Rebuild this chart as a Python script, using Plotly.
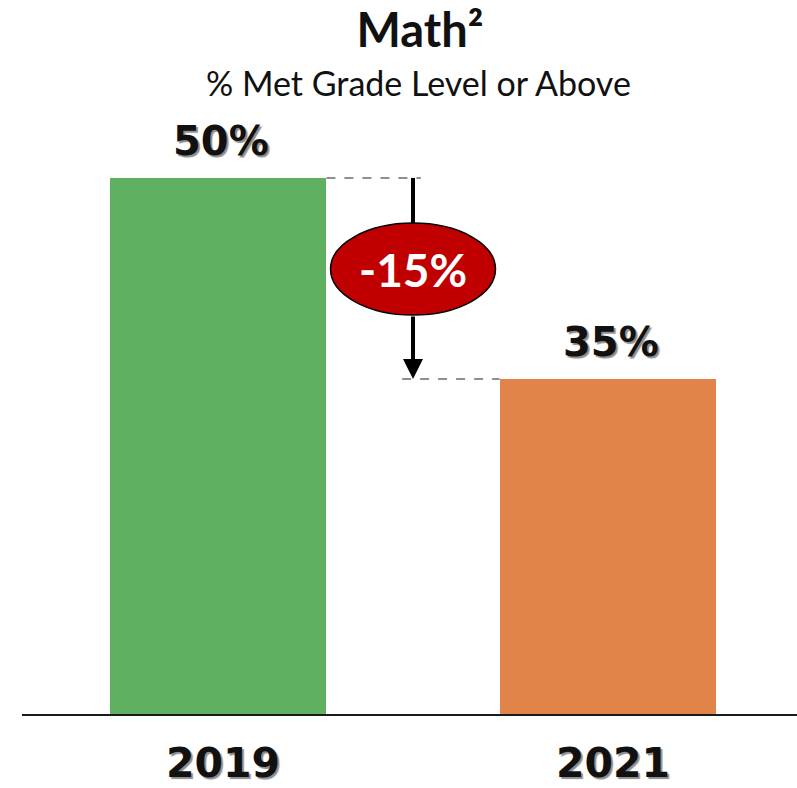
import plotly.graph_objects as go

# Data
years = ["2019", "2021"]
met_pct = [50, 35]
bar_colors = ["#5FB060", "#E1844A"]

title_text = "Math²"
subtitle_text = "% Met Grade Level or Above"

change = met_pct[1] - met_pct[0]
change_text = f"{change}%"

FONT = "Lato, 'Open Sans', sans-serif"
NUM_FONT = "'DejaVu Sans', sans-serif"
SHADOW = "2px 2px 1px rgba(0,0,0,0.45)"
x_pos = [0, 1]
BAR_W = 0.556
Y_MIN = 10
Y_MAX = 55.07

# ellipse / arrow placement between the two bars
mid_x = 0.5
ell_cy = 43.2
ell_rx = 0.2115
ell_ry = 3.43

fig = go.Figure()
fig.add_trace(go.Bar(
    x=x_pos,
    y=met_pct,
    width=BAR_W,
    marker=dict(color=bar_colors, line=dict(width=0)),
    hoverinfo="skip",
))

shapes = [
    # dashed guides at the two bar heights
    dict(type="line", xref="x", yref="y",
         x0=x_pos[0] + BAR_W / 2, x1=mid_x + 0.02, y0=met_pct[0], y1=met_pct[0],
         line=dict(color="#6b6b6b", width=1.5, dash="dash")),
    dict(type="line", xref="x", yref="y",
         x0=mid_x - 0.028, x1=x_pos[1] - BAR_W / 2, y0=met_pct[1], y1=met_pct[1],
         line=dict(color="#6b6b6b", width=1.5, dash="dash")),
    # upper part of the arrow shaft
    dict(type="line", xref="x", yref="y",
         x0=mid_x, x1=mid_x, y0=met_pct[0], y1=ell_cy,
         line=dict(color="black", width=4)),
    # red ellipse
    dict(type="circle", xref="x", yref="y",
         x0=mid_x - ell_rx, x1=mid_x + ell_rx,
         y0=ell_cy - ell_ry, y1=ell_cy + ell_ry,
         fillcolor="#C00000", line=dict(color="black", width=1.5)),
]

annotations = [
    # lower part of the arrow with head
    dict(x=mid_x, y=met_pct[1], xref="x", yref="y",
         ax=mid_x, ay=ell_cy - ell_ry, axref="x", ayref="y",
         showarrow=True, arrowhead=2, arrowsize=1, arrowwidth=4,
         arrowcolor="black", text=""),
    dict(x=mid_x, y=ell_cy, xref="x", yref="y", text=f"<b>{change_text}</b>",
         showarrow=False,
         font=dict(family=FONT, size=46, color="white")),
    dict(x=(418 - 22) / 775, y=(714 - 83) / 604, xref="paper", yref="paper",
         yanchor="middle", text=subtitle_text, showarrow=False,
         font=dict(family=FONT, size=34, color="#111111")),
]

# value labels above the bars
for xv, v in zip(x_pos, met_pct):
    annotations.append(dict(
        x=xv, y=v, xref="x", yref="y", yanchor="bottom", yshift=12, xshift=3,
        text=f"<b>{v}%</b>", showarrow=False,
        font=dict(family=NUM_FONT, size=40, color="#111111", shadow=SHADOW),
    ))

fig.update_layout(
    width=797, height=788,
    margin=dict(l=22, r=0, t=110, b=74),
    paper_bgcolor="white", plot_bgcolor="white",
    showlegend=False,
    bargap=0,
    title=dict(text=f"<b>{title_text}</b>", x=0.527, xanchor="center",
               y=1 - 31 / 788, yanchor="middle", yref="container",
               font=dict(family=FONT, size=47, color="#111111")),
    shapes=shapes,
    annotations=annotations,
    xaxis=dict(range=[-0.5026, 1.4846], tickvals=x_pos, ticktext=years,
               showgrid=False, zeroline=False, showline=True,
               linecolor="#1a1a1a", linewidth=2, ticks="",
               ticklabelstandoff=12, ticklabelshift=5, automargin=False,
               tickfont=dict(family=NUM_FONT, size=41, color="#111111",
                             weight="bold", shadow=SHADOW),
               fixedrange=True),
    yaxis=dict(range=[Y_MIN, Y_MAX], visible=False, fixedrange=True,
               automargin=False),
)

fig.write_html("out.html")
